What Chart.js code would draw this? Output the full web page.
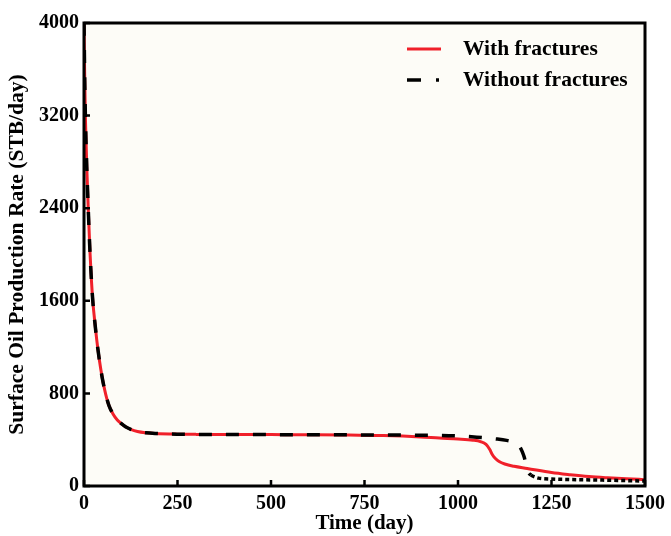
<!DOCTYPE html>
<html>
<head>
<meta charset="utf-8">
<script src="https://cdn.jsdelivr.net/npm/chart.js@4.4.1/dist/chart.umd.min.js"></script>
<style>
html,body{margin:0;padding:0;background:#ffffff;}
#c{display:block;}
</style>
</head>
<body>
<canvas id="c" width="671" height="536"></canvas>
<script>
// ---- data ----
const seriesLabels = ['With fractures', 'Without fractures'];
const xTicks = [0, 250, 500, 750, 1000, 1250, 1500];
const yTicks = [0, 800, 1600, 2400, 3200, 4000];

const timeWith = [0, 2, 4, 8, 12, 16, 20, 24, 28, 34, 41, 49, 55, 61, 67, 78, 89, 100, 111, 125, 143, 165, 190, 250, 300, 400, 500, 600, 700, 800, 900, 950, 1000, 1040, 1060, 1075, 1085, 1092, 1100, 1110, 1125, 1150, 1185, 1250, 1300, 1350, 1400, 1450, 1500];
const rateWith = [4000, 3500, 3150, 2700, 2340, 2020, 1770, 1580, 1445, 1265, 1090, 930, 835, 755, 693, 620, 570, 538, 512, 490, 471, 460, 454, 448, 446, 445, 444, 443, 441, 436, 424, 414, 406, 396, 384, 360, 315, 270, 238, 212, 190, 170, 152, 117, 98, 82, 71, 62, 55];

const timeWithout = [0, 2, 4, 8, 12, 16, 20, 24, 28, 34, 41, 49, 55, 61, 67, 78, 89, 100, 111, 125, 143, 165, 190, 250, 300, 400, 500, 600, 700, 800, 900, 950, 1000, 1050, 1100, 1130, 1150, 1160, 1166, 1172, 1177, 1182, 1187, 1195, 1205, 1215, 1250, 1300, 1400, 1500];
const rateWithout = [4000, 3500, 3150, 2700, 2340, 2020, 1770, 1580, 1445, 1265, 1090, 930, 835, 755, 693, 620, 570, 538, 512, 490, 471, 460, 454, 448, 446, 445, 444, 443, 442, 441, 439, 437, 432, 422, 407, 394, 377, 357, 335, 295, 250, 185, 125, 95, 78, 68, 60, 56, 50, 43];

const RED = '#f0202a';
const BLACK = '#000000';
const FONT = '"Liberation Serif", "Times New Roman", serif';

const toPoints = (xs, ys) => xs.map((x, i) => ({x: x, y: ys[i]}));

const framePlugin = {
  id: 'frame',
  beforeDraw(chart) {
    const {ctx, chartArea: a} = chart;
    ctx.save();
    ctx.fillStyle = '#fdfcf7';
    ctx.fillRect(a.left, a.top, a.right - a.left, a.bottom - a.top);
    ctx.restore();
  },
  afterDraw(chart) {
    const {ctx, chartArea: a, scales} = chart;
    ctx.save();
    // inward tick marks
    ctx.strokeStyle = '#000';
    ctx.lineWidth = 2.5;
    ctx.beginPath();
    scales.x.ticks.forEach(t => {
      const px = scales.x.getPixelForValue(t.value);
      ctx.moveTo(px, a.bottom);
      ctx.lineTo(px, a.bottom - 6);
    });
    scales.y.ticks.forEach(t => {
      const py = scales.y.getPixelForValue(t.value);
      ctx.moveTo(a.left, py);
      ctx.lineTo(a.left + 6, py);
    });
    ctx.stroke();
    // frame
    ctx.lineWidth = 3;
    ctx.strokeRect(a.left, a.top, a.right - a.left, a.bottom - a.top);
    // legend
    const ds = chart.data.datasets;
    const rows = [{y: 49, ds: ds[1]}, {y: 80, ds: ds[0]}];
    rows.forEach(r => {
      ctx.beginPath();
      ctx.strokeStyle = r.ds.borderColor;
      ctx.lineWidth = r.ds.borderWidth;
      ctx.setLineDash(r.ds.legendDash);
      ctx.moveTo(407, r.y);
      ctx.lineTo(441, r.y);
      ctx.stroke();
      ctx.setLineDash([]);
      ctx.fillStyle = '#000';
      ctx.font = 'bold 21.5px ' + FONT;
      ctx.textBaseline = 'middle';
      ctx.textAlign = 'left';
      ctx.fillText(r.ds.label, 463, r.y);
    });
    ctx.restore();
  }
};

new Chart(document.getElementById('c'), {
  type: 'line',
  data: {
    datasets: [
      {
        label: seriesLabels[1],
        data: toPoints(timeWithout, rateWithout),
        borderColor: BLACK,
        borderWidth: 3.5,
        borderDash: [13, 14],
        legendDash: [14, 15, 3, 100],
        segment: {
          borderDash: ctx => ctx.p0.parsed.x >= 1190 ? [4, 3] : undefined
        },
        pointRadius: 0,
        fill: false,
        cubicInterpolationMode: 'monotone',
        order: 0
      },
      {
        label: seriesLabels[0],
        data: toPoints(timeWith, rateWith),
        borderColor: RED,
        borderWidth: 3,
        legendDash: [],
        pointRadius: 0,
        fill: false,
        cubicInterpolationMode: 'monotone',
        order: 1
      }
    ]
  },
  options: {
    responsive: false,
    animation: false,
    devicePixelRatio: 1,
    layout: {padding: {left: 0, right: 26, top: 23, bottom: 0}},
    plugins: {
      legend: {display: false},
      tooltip: {enabled: false}
    },
    scales: {
      x: {
        type: 'linear',
        min: 0, max: 1500,
        afterBuildTicks: s => { s.ticks = xTicks.map(v => ({value: v})); },
        afterFit: s => { s.height = 50; },
        grid: {display: false, drawTicks: false},
        border: {display: false},
        ticks: {color: '#000', padding: 6, maxRotation: 0, callback: v => String(v), font: {family: FONT, size: 20, weight: 'bold'}},
        title: {display: true, text: 'Time (day)', color: '#000', padding: {top: 0, bottom: 0}, font: {family: FONT, size: 21, weight: 'bold'}}
      },
      y: {
        min: 0, max: 4000,
        afterBuildTicks: s => { s.ticks = yTicks.map(v => ({value: v})); },
        afterFit: s => { s.width = 84; },
        grid: {display: false, drawTicks: false},
        border: {display: false},
        ticks: {color: '#000', padding: 5, callback: v => String(v), font: {family: FONT, size: 20, weight: 'bold'}},
        title: {display: true, text: 'Surface Oil Production Rate (STB/day)', color: '#000', padding: {top: 5, bottom: 0}, font: {family: FONT, size: 21.5, weight: 'bold'}}
      }
    }
  },
  plugins: [framePlugin]
});
</script>
</body>
</html>
